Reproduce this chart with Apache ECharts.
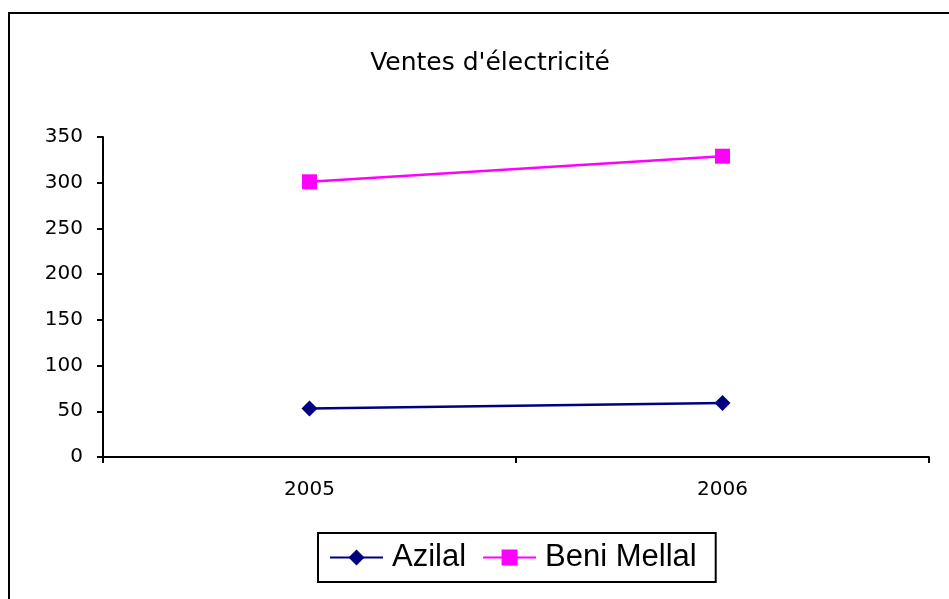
<!DOCTYPE html>
<html>
<head>
<meta charset="utf-8">
<script src="https://cdn.jsdelivr.net/npm/echarts@6/dist/echarts.min.js"></script>
<style>
    html, body { margin: 0; padding: 0; background: #fff; }
    #main { width: 949px; height: 599px; }
</style>
</head>
<body>
<div id="main"></div>
<script>
    var years = ['2005', '2006'];
    var azilal = [53, 59];
    var beniMellal = [301, 329];
    var seriesNames = ['Azilal', 'Beni Mellal'];

    var chart = echarts.init(document.getElementById('main'));
    var option = {
        backgroundColor: '#fff',
        animation: false,
        title: {
            text: "Ventes d'électricité",
            left: 485,
            top: 46,
            textAlign: 'center',
            textStyle: {
                fontFamily: 'DejaVu Sans',
                fontSize: 25,
                fontWeight: 'normal',
                color: '#000'
            }
        },
        legend: {
            data: seriesNames,
            left: 318,
            top: 533,
            itemWidth: 53,
            itemHeight: 20,
            itemGap: 16,
            padding: [9, 19, 9, 11],
            borderColor: '#000',
            borderWidth: 2,
            lineStyle: { width: 2 },
            textStyle: {
                fontFamily: 'Liberation Sans',
                fontSize: 31,
                color: '#000',
                padding: [0, 0, 0, 4]
            }
        },
        grid: {
            left: 103,
            top: 137,
            right: 20,
            bottom: 142
        },
        xAxis: {
            type: 'category',
            data: years,
            boundaryGap: true,
            axisLine: { lineStyle: { color: '#000', width: 2 } },
            axisTick: { show: true, length: 6, lineStyle: { color: '#000', width: 2 } },
            axisLabel: {
                margin: 23,
                fontFamily: 'DejaVu Sans',
                fontSize: 20,
                color: '#000'
            },
            splitLine: { show: false }
        },
        yAxis: {
            type: 'value',
            min: 0,
            max: 350,
            interval: 50,
            axisLine: { show: true, lineStyle: { color: '#000', width: 2 } },
            axisTick: { show: true, length: 6, lineStyle: { color: '#000', width: 2 } },
            axisLabel: {
                margin: 20,
                fontFamily: 'DejaVu Sans',
                fontSize: 20,
                color: '#000'
            },
            splitLine: { show: false }
        },
        series: [
            {
                name: seriesNames[0],
                type: 'line',
                data: azilal,
                symbol: 'diamond',
                symbolSize: 16,
                lineStyle: { color: '#000080', width: 2.5 },
                itemStyle: { color: '#000080' }
            },
            {
                name: seriesNames[1],
                type: 'line',
                data: beniMellal,
                symbol: 'rect',
                symbolSize: 15,
                lineStyle: { color: '#ff00ff', width: 2.5 },
                itemStyle: { color: '#ff00ff' }
            }
        ],
        graphic: [{
            type: 'rect',
            shape: { x: 9, y: 13, width: 960, height: 620 },
            style: { fill: 'none', stroke: '#000', lineWidth: 2 },
            silent: true
        }]
    };
    chart.setOption(option);
</script>
</body>
</html>
